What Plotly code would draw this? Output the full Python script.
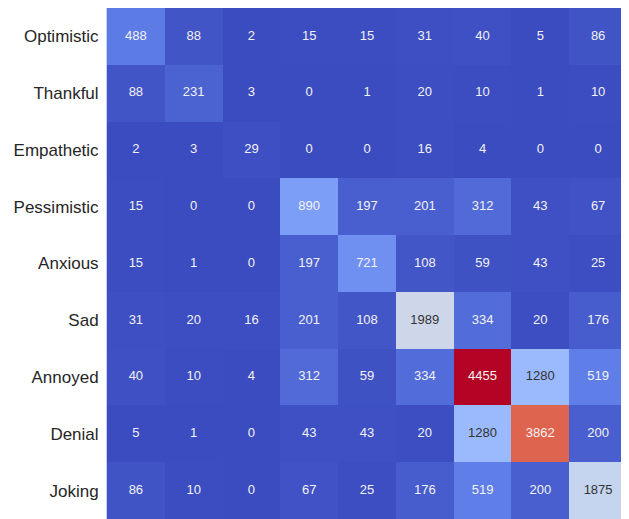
import plotly.graph_objects as go

labels = ['Optimistic', 'Thankful', 'Empathetic', 'Pessimistic', 'Anxious',
          'Sad', 'Annoyed', 'Denial', 'Joking']

counts = [
    [488, 88, 2, 15, 15, 31, 40, 5, 86],
    [88, 231, 3, 0, 1, 20, 10, 1, 10],
    [2, 3, 29, 0, 0, 16, 4, 0, 0],
    [15, 0, 0, 890, 197, 201, 312, 43, 67],
    [15, 1, 0, 197, 721, 108, 59, 43, 25],
    [31, 20, 16, 201, 108, 1989, 334, 20, 176],
    [40, 10, 4, 312, 59, 334, 4455, 1280, 519],
    [5, 1, 0, 43, 43, 20, 1280, 3862, 200],
    [86, 10, 0, 67, 25, 176, 519, 200, 1875],
]

# matplotlib-ish coolwarm
coolwarm = [
    [0.0, 'rgb(59,76,192)'],
    [0.125, 'rgb(98,130,234)'],
    [0.25, 'rgb(141,176,254)'],
    [0.375, 'rgb(184,208,249)'],
    [0.5, 'rgb(221,221,221)'],
    [0.625, 'rgb(245,196,173)'],
    [0.75, 'rgb(244,154,123)'],
    [0.875, 'rgb(222,96,77)'],
    [1.0, 'rgb(180,4,38)'],
]

zmax = max(max(r) for r in counts)

# text positions / colours for the cell annotations
tx, ty, tt, tc = [], [], [], []
for i, row in enumerate(counts):
    for j, v in enumerate(row):
        tx.append(j)
        ty.append(labels[i])
        tt.append(str(v))
        f = v / zmax
        tc.append('#333333' if 0.25 < f < 0.6 else '#f2f2f2')

fig = go.Figure()
fig.add_trace(go.Heatmap(
    z=counts,
    x=list(range(len(labels))),
    y=labels,
    colorscale=coolwarm,
    zmin=0,
    zmax=zmax,
    showscale=False,
    hoverinfo='skip'
))
fig.add_trace(go.Scatter(
    x=tx,
    y=ty,
    text=tt,
    mode='text',
    textfont={'size': 13, 'color': tc, 'family': 'Liberation Sans, Arial'},
    hoverinfo='skip',
    showlegend=False
))

# page body has an 8px margin, so the figure is a bit smaller than the window
fig.update_layout(
    width=621,
    height=511,
    margin={'l': 99, 'r': 2, 't': 0, 'b': 0},
    paper_bgcolor='white',
    plot_bgcolor='white',
    font={'family': 'Liberation Sans, Arial', 'color': '#262626'},
    xaxis={
        'showticklabels': False,
        'showgrid': False,
        'zeroline': False,
        'range': [-0.5, 8.5],
        'showline': True,
        'mirror': True,
        'linecolor': '#c9cff0',
        'linewidth': 1,
        'automargin': False,
    },
    yaxis={
        'autorange': 'reversed',
        'showgrid': False,
        'zeroline': False,
        'tickfont': {'size': 17},
        'ticks': '',
        'ticklabelstandoff': 4,
        'showline': True,
        'mirror': True,
        'linecolor': '#c9cff0',
        'linewidth': 1,
        'automargin': False,
    },
)

fig.write_html("out.html")
